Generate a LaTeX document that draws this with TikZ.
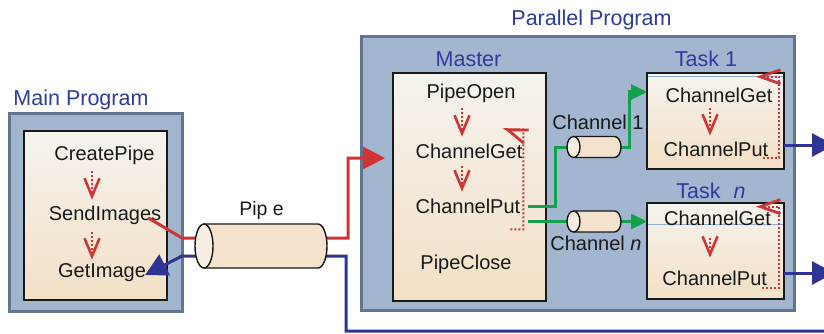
\documentclass[tikz,border=0pt]{standalone}
\usepackage{fontspec}
\setmainfont{Liberation Sans}
\usetikzlibrary{arrows.meta,calc}

\definecolor{lblblue}{HTML}{2E3C9C}
\definecolor{framefill}{HTML}{A2B6D0}
\definecolor{frameedge}{HTML}{617591}
\definecolor{paper}{HTML}{F5F3EE}
\definecolor{paperlow}{HTML}{F3E0C6}
\definecolor{flowred}{HTML}{D03434}
\definecolor{linkblue}{HTML}{2E3494}
\definecolor{linkgreen}{HTML}{12A24E}
\definecolor{tubefill}{HTML}{F4E2CC}
\definecolor{tubeface}{HTML}{F7EEE3}
\definecolor{hair}{HTML}{8EAED6}

% cylinder drawn over a named (invisible) node: #1 node, #2 end radius, #3 half height
\newcommand\tubeshape[3]{%
  \filldraw[tubeline, fill=tubefill] ([xshift=#2]#1.north west) -- ([xshift=-#2]#1.north east)
    arc[start angle=90, end angle=-90, x radius=#2, y radius=#3] -- ([xshift=#2]#1.south west) -- cycle;
  \filldraw[tubeline, fill=tubeface] ([xshift=#2]#1.west) ellipse[x radius=#2, y radius=#3];
}

\tikzset{
  frame/.style={draw=frameedge, fill=framefill, line width=3pt, inner sep=0pt, outer sep=0pt},
  block/.style={draw=black!90, line width=1.5pt, top color=paper, bottom color=paperlow, inner sep=0pt, outer sep=0pt},
  title/.style={text=lblblue, font=\fontsize{21.5}{24}\selectfont, inner sep=0pt, text height=15.4pt, text depth=0pt},
  op/.style={text=black!90, font=\fontsize{20}{24}\selectfont, inner sep=0pt, text height=14.3pt, text depth=0pt},
  tube/.style={draw=none, inner sep=0pt, outer sep=0pt},
  tubeline/.style={draw=black!90, line width=1.4pt},
  flowbase/.style={draw=flowred, line width=2pt, dash pattern=on 2pt off 2pt},
  flow/.style={flowbase, -{Straight Barb[length=18pt, width=15pt, line width=2.6pt]}},
  flowback/.style={flowbase, -{Straight Barb[length=20pt, width=14pt, line width=2.8pt]}},
  redlink/.style={draw=flowred, line width=3pt, -{Triangle[length=22pt, width=22pt]}},
  bluelink/.style={draw=linkblue, line width=3pt, -{Triangle[length=22pt, width=23pt]}},
  greenlink/.style={draw=linkgreen, line width=3pt, -{Triangle[length=16pt, width=15pt]}},
  hairline/.style={draw=hair, line width=0.8pt},
}

\begin{document}
\begin{tikzpicture}[x=1pt, y=-1pt]
\useasboundingbox (0,0) rectangle (824,334);
\clip (0,0) rectangle (824,334);

% outer frames
\node[frame, minimum width=173pt, minimum height=198pt] (mainbox) at (96,212.5) {};
\node[frame, minimum width=433pt, minimum height=274pt] (parbox) at (578,173.5) {};

% titles
\node[title] (mainlbl) at (81,98) {Main Program};
\node[title] (parlbl) at (591.5,18) {Parallel Program};
\node[title] (masterlbl) at (468.5,59) {Master};
\node[title] (task1lbl) at (706,59) {Task 1};
\node[title] (tasknlbl) at (711,191) {Task\hspace{0.6em}\textit{n}};

% program blocks
\node[block, minimum width=143pt, minimum height=169pt] (maininner) at (95.5,215.5) {};
\node[block, minimum width=153pt, minimum height=228pt] (master) at (469.5,187) {};
\node[block, minimum width=137pt, minimum height=96pt] (task1) at (715.5,121) {};
\node[block, minimum width=137pt, minimum height=96pt] (taskn) at (715.5,251) {};
\draw[hairline] ([shift={(1,3)}]task1.north west) -- ([shift={(-1,3)}]task1.north east);
\draw[hairline] ([shift={(1,-27)}]taskn.west) -- ([shift={(-1,-27)}]taskn.east);

% operations
\node[op] (createpipe) at (104.5,153) {CreatePipe};
\node[op] (sendimg) at (105,213) {SendImages};
\node[op] (getimg) at (102,270) {GetImage};

\node[op] (pipeopen) at (471,91) {PipeOpen};
\node[op] (chget) at (469,151) {ChannelGet};
\node[op] (chput) at (468,206) {ChannelPut};
\node[op] (pipeclose) at (466,262) {PipeClose};

\node[op] (t1get) at (719,95) {ChannelGet};
\node[op] (t1put) at (716,149) {ChannelPut};
\node[op] (tnget) at (717.5,218) {ChannelGet};
\node[op] (tnput) at (714.7,278) {ChannelPut};

% pipe and channels (placeholders, drawn later)
\node[tube, minimum width=132pt, minimum height=44pt] (pipe) at (261,246) {};
\node[tube, minimum width=54pt, minimum height=21pt] (ch1) at (594,147) {};
\node[tube, minimum width=54pt, minimum height=21pt] (chn) at (594,221.5) {};

\coordinate (offbottom) at (830,331);
\coordinate (out1) at (834,145);
\coordinate (outn) at (834,273);

% control flow inside the blocks
\draw[flow, shorten <=11pt, shorten >=6pt] ([xshift=-12.5pt]createpipe.south) -- ([xshift=-12.5pt]createpipe.south |- sendimg.north);
\draw[flow, shorten <=12pt, shorten >=3pt] ([xshift=-13pt]sendimg.south) -- ([xshift=-13pt]sendimg.south |- getimg.north);

\draw[flow, shorten <=10pt, shorten >=7pt] ([xshift=-9pt]pipeopen.south) -- ([xshift=-9pt]pipeopen.south |- chget.north);
\draw[flow, shorten <=8pt, shorten >=7pt] ([xshift=-7pt]chget.south) -- ([xshift=-7pt]chget.south |- chput.north);
\draw[flowback] ([shift={(-10,16)}]chput.south east) -- ++(13,0) |- ([shift={(-15,-14)}]chget.north east) -- ++(-4,-1.5);

\draw[flow, shorten <=6pt, shorten >=6pt] ([xshift=-9pt]t1get.south) -- ([xshift=-9pt]t1get.south |- t1put.north);
\draw[flowback] ([shift={(-5,2)}]t1put.south east) -- ++(16,0) |- ([shift={(-16.4,-10.85)}]t1get.north east);

\draw[flow, shorten <=13pt, shorten >=13pt] ([xshift=-7.5pt]tnget.south) -- ([xshift=-7.5pt]tnget.south |- tnput.north);
\draw[flowback] ([shift={(-5,3)}]tnput.south east) -- ++(17,0) |- ([shift={(-15,-4)}]tnget.north east);

% data links
\draw[redlink] ([shift={(-13,5)}]sendimg.east) -- ([shift={(-13,-8)}]pipe.west) -- ([shift={(21,-8)}]pipe.east) |- ([shift={(-8,-29)}]master.west);
\draw[bluelink] (offbottom) -| ([shift={(19,10)}]pipe.east) -- ([shift={(-13,10)}]pipe.west) -- ([shift={(-1,5)}]getimg.east);

\draw[greenlink] ([xshift=8pt]chput.east) -| ([xshift=-12pt]ch1.west) -- ([xshift=8pt]ch1.east) |- ([shift={(0,-29)}]task1.west);
\draw[greenlink] ([xshift=8pt]chn.west -| chput.east) -- (chn.east -| taskn.west);

\draw[bluelink] ([shift={(0,24)}]task1.east) -- (out1);
\draw[bluelink] ([shift={(0,22)}]taskn.east) -- (outn);

% cylinders
\tubeshape{pipe}{9pt}{22pt}
\tubeshape{ch1}{6.5pt}{10.5pt}
\tubeshape{chn}{6.5pt}{10.5pt}

\node[op, font=\fontsize{19.5}{24}\selectfont] (pipelbl) at (261.5,208) {Pip e};
\node[op] (ch1lbl) at (598,122) {Channel 1};
\node[op] (chnlbl) at (596,243) {Channel \textit{n}};
\end{tikzpicture}
\end{document}
